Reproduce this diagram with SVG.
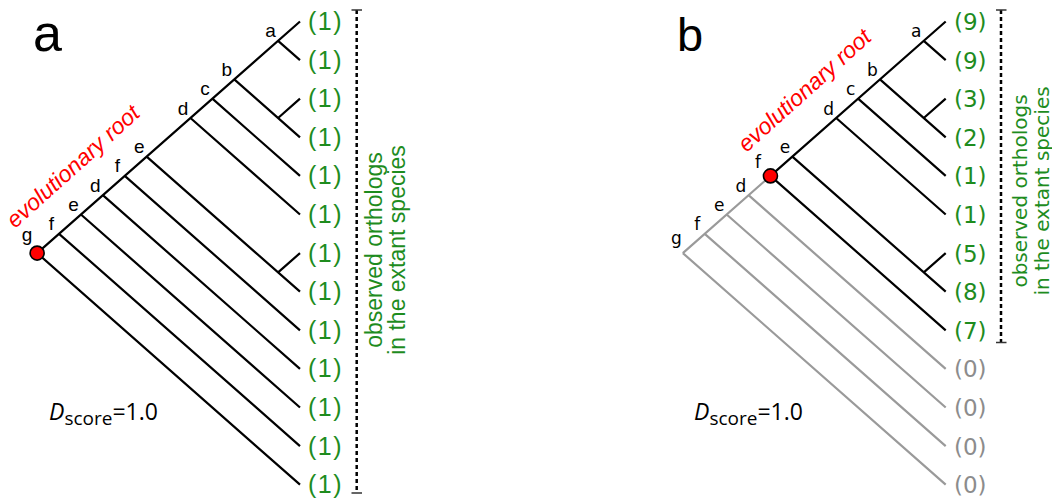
<svg xmlns="http://www.w3.org/2000/svg" width="1052" height="500" viewBox="0 0 1052 500">
<style>
.br{stroke:#000;stroke-width:2.2;fill:none}
.gr{stroke:#9a9a9a;stroke-width:2.2;fill:none}
.dash{stroke:#000;stroke-width:2.5;stroke-dasharray:4 3;fill:none}
.tick{stroke:#333;stroke-width:1.6;fill:none}
.root{fill:#ff0000;stroke:#000;stroke-width:1.6}
.la{font-family:"Liberation Sans",Arial,sans-serif;font-size:25px;letter-spacing:1.5px;fill:#1e8c1e}
.lb{font-family:"DejaVu Sans",Verdana,sans-serif;font-size:23px;fill:#1e8c1e}
.lb0{font-family:"DejaVu Sans",Verdana,sans-serif;font-size:23px;fill:#8c8c8c}
.na{font-family:"Liberation Sans",Arial,sans-serif;font-size:19px;fill:#000;text-anchor:middle}
.nb{font-family:"DejaVu Sans",Verdana,sans-serif;font-size:17px;fill:#000;text-anchor:middle}
.va{font-family:"Liberation Sans",Arial,sans-serif;font-size:23px;fill:#1e8c1e;text-anchor:middle}
.vb{font-family:"DejaVu Sans",Verdana,sans-serif;font-size:20px;fill:#1e8c1e;text-anchor:middle}
.er{font-family:"Liberation Sans",Arial,sans-serif;font-size:23px;font-style:italic;fill:#ff0000}
.ds{font-family:"Open Sans",sans-serif;font-size:23px;fill:#000}
.pl{font-family:"Liberation Sans",Arial,sans-serif;fill:#000}
</style>

<text class="pl" x="33" y="51" font-size="52">a</text>
<text class="pl" x="677" y="51" font-size="47">b</text>

<g id="connectors">
  <!-- panel a -->
  <path class="br" d="M37.13,253.1L300,21.5M278.09,40.8L300,60.1M234.28,79.4L300,137.3M278.09,118L300,98.7M212.38,98.7L300,175.9M190.47,118L300,214.5M146.66,156.6L300,291.7M278.09,272.4L300,253.1M124.76,175.9L300,330.3M102.85,195.2L300,368.9M80.95,214.5L300,407.5M59.04,233.8L300,446.1M37.13,253.1L300,484.7"/>
  <path class="dash" d="M356.7,10V493"/>
  <path class="tick" d="M351.5,10H362M351.5,493H362"/>
  <!-- panel b -->
  <path class="gr" d="M682.83,253.1L770.46,175.9M748.55,195.2L945.7,368.9M726.65,214.5L945.7,407.5M704.74,233.8L945.7,446.1M682.83,253.1L945.7,484.7"/>
  <path class="br" d="M770.46,175.9L945.7,21.5M923.79,40.8L945.7,60.1M879.98,79.4L945.7,137.3M923.79,118L945.7,98.7M858.08,98.7L945.7,175.9M836.17,118L945.7,214.5M792.36,156.6L945.7,291.7M923.79,272.4L945.7,253.1M770.46,175.9L945.7,330.3"/>
  <path class="dash" d="M1001,10V342.5"/>
  <path class="tick" d="M996,10H1006.5M996,342.5H1006.5"/>
</g>

<g id="panel-a-nodes">
  <g id="a-node-a"><text class="na" x="270.6" y="37.3">a</text></g>
  <g id="a-node-b"><text class="na" x="226.8" y="75.9">b</text></g>
  <g id="a-node-c"><text class="na" x="204.9" y="95.2">c</text></g>
  <g id="a-node-d1"><text class="na" x="183" y="114.5">d</text></g>
  <g id="a-node-e1"><text class="na" x="139.2" y="153.1">e</text></g>
  <g id="a-node-f1"><text class="na" x="117.3" y="172.4">f</text></g>
  <g id="a-node-d2"><text class="na" x="95.4" y="191.7">d</text></g>
  <g id="a-node-e2"><text class="na" x="73.5" y="211">e</text></g>
  <g id="a-node-f2"><text class="na" x="51.5" y="230.3">f</text></g>
  <g id="a-node-g"><text class="na" x="27" y="241">g</text><circle class="root" cx="37.13" cy="253.1" r="7"/></g>
  <g id="a-root-label"><text class="er" transform="translate(15,229) rotate(-42)">evolutionary root</text></g>
  <g id="a-leaves">
    <text class="la" x="308" y="30">(1)</text>
    <text class="la" x="308" y="68.6">(1)</text>
    <text class="la" x="308" y="107.2">(1)</text>
    <text class="la" x="308" y="145.8">(1)</text>
    <text class="la" x="308" y="184.4">(1)</text>
    <text class="la" x="308" y="223">(1)</text>
    <text class="la" x="308" y="261.6">(1)</text>
    <text class="la" x="308" y="300.2">(1)</text>
    <text class="la" x="308" y="338.8">(1)</text>
    <text class="la" x="308" y="377.4">(1)</text>
    <text class="la" x="308" y="416">(1)</text>
    <text class="la" x="308" y="454.6">(1)</text>
    <text class="la" x="308" y="493.2">(1)</text>
  </g>
  <g id="a-caption">
    <text class="va" transform="translate(382,250) rotate(-90)">observed orthologs</text>
    <text class="va" transform="translate(404.5,250) rotate(-90)">in the extant species</text>
  </g>
  <g id="a-score"><text class="ds" x="49" y="420"><tspan font-style="italic">D</tspan><tspan font-size="19" dy="4.5">score</tspan><tspan dy="-4.5">=1.0</tspan></text></g>
</g>

<g id="panel-b-nodes">
  <g id="b-node-a"><text class="nb" x="916.3" y="37.3">a</text></g>
  <g id="b-node-b"><text class="nb" x="872.5" y="75.9">b</text></g>
  <g id="b-node-c"><text class="nb" x="850.6" y="95.2">c</text></g>
  <g id="b-node-d1"><text class="nb" x="828.7" y="114.5">d</text></g>
  <g id="b-node-e1"><text class="nb" x="784.9" y="153.1">e</text></g>
  <g id="b-node-f1"><text class="nb" x="758" y="168">f</text><circle class="root" cx="770.46" cy="175.9" r="7"/></g>
  <g id="b-node-d2"><text class="nb" x="741" y="191.7">d</text></g>
  <g id="b-node-e2"><text class="nb" x="719.2" y="211">e</text></g>
  <g id="b-node-f2"><text class="nb" x="697.2" y="230.3">f</text></g>
  <g id="b-node-g"><text class="nb" x="676.5" y="244">g</text></g>
  <g id="b-root-label"><text class="er" transform="translate(746.5,153) rotate(-42)">evolutionary root</text></g>
  <g id="b-leaves">
    <text class="lb" x="954" y="30">(9)</text>
    <text class="lb" x="954" y="68.6">(9)</text>
    <text class="lb" x="954" y="107.2">(3)</text>
    <text class="lb" x="954" y="145.8">(2)</text>
    <text class="lb" x="954" y="184.4">(1)</text>
    <text class="lb" x="954" y="223">(1)</text>
    <text class="lb" x="954" y="261.6">(5)</text>
    <text class="lb" x="954" y="300.2">(8)</text>
    <text class="lb" x="954" y="338.8">(7)</text>
    <text class="lb0" x="954" y="377.4">(0)</text>
    <text class="lb0" x="954" y="416">(0)</text>
    <text class="lb0" x="954" y="454.6">(0)</text>
    <text class="lb0" x="954" y="493.2">(0)</text>
  </g>
  <g id="b-caption">
    <text class="vb" transform="translate(1027,191) rotate(-90)">observed orthologs</text>
    <text class="vb" transform="translate(1049,191) rotate(-90)">in the extant species</text>
  </g>
  <g id="b-score"><text class="ds" x="694" y="420"><tspan font-style="italic">D</tspan><tspan font-size="19" dy="4.5">score</tspan><tspan dy="-4.5">=1.0</tspan></text></g>
</g>
</svg>
